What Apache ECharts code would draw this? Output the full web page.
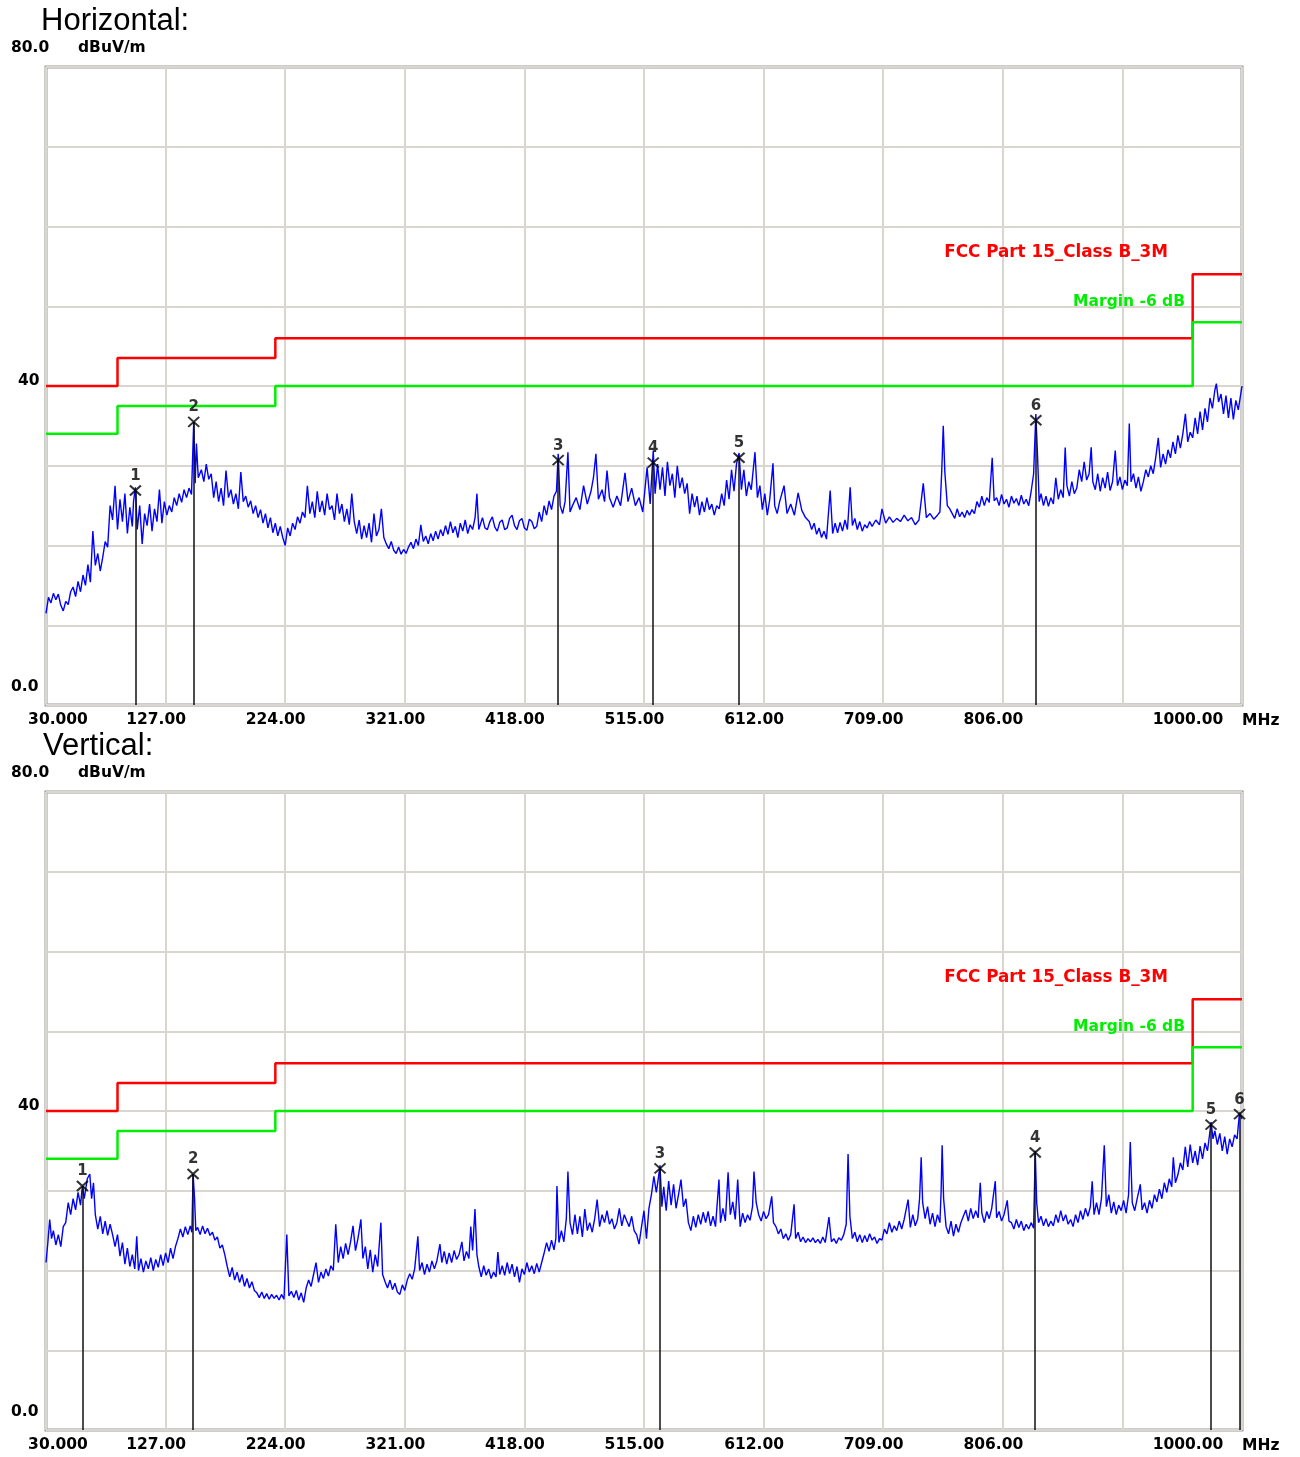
<!DOCTYPE html>
<html><head><meta charset="utf-8">
<script src="https://cdn.jsdelivr.net/npm/echarts@6/dist/echarts.min.js"></script>
<style>html,body{margin:0;padding:0;background:#fff}#c{width:1300px;height:1457px}</style>
</head><body><div id="c"></div>
<script>
// ---------- data ----------
const xTickLabels = ['30.000','127.00','224.00','321.00','418.00','515.00','612.00','709.00','806.00','','1000.00'];
const limitFreq  = [30, 88, 88, 216, 216, 960, 960, 1000];
const limitLevel = [40, 40, 43.5, 43.5, 46, 46, 54, 54];
const marginDb = -6;
const limitName = 'FCC Part 15_Class B_3M';
const marginName = 'Margin -6 dB';
const panelTitles = ['Horizontal:', 'Vertical:'];

const hTrace = [[30,11.5],[32,13.5],[34,12.8],[36,14.0],[38,13.2],[40,13.9],[42,12.5],[44,11.8],[46,13.0],[48,12.6],[50,14.2],[52,14.8],[54,13.6],[56,15.5],[58,14.2],[60,16.3],[62,15.0],[64,17.6],[66,15.4],[68,21.8],[70,17.5],[72,19.0],[74,16.8],[76,18.5],[78,20.5],[80,19.8],[82,25.0],[84,23.2],[86,27.5],[88,22.0],[90,25.8],[92,23.0],[94,26.5],[96,21.5],[98,24.8],[100,22.4],[101,25.5],[102.5,27.3],[104,22.0],[106,25.0],[108,20.2],[110,24.0],[112,22.5],[114,25.2],[116,21.8],[118,24.6],[120,23.0],[122,27.0],[124,22.8],[126,25.5],[128,23.8],[130,25.0],[132,24.2],[134,26.0],[136,25.0],[138,26.5],[140,25.4],[142,27.0],[144,26.0],[146,27.2],[148,26.4],[149.8,35.5],[151,27.8],[152,32.8],[153.5,28.5],[156,29.5],[158,28.0],[160,30.2],[162,28.3],[164,29.0],[166,26.0],[168,28.0],[170,25.5],[172,27.2],[174,25.0],[176,29.4],[178,26.0],[180,27.0],[182,25.2],[184,26.5],[186,24.6],[188,29.2],[190,25.5],[192,26.2],[194,24.8],[196,25.6],[198,24.0],[200,25.0],[202,23.5],[204,24.5],[206,22.8],[208,24.0],[210,22.2],[212,23.5],[214,21.6],[216,22.8],[218,21.2],[220,22.4],[222,21.0],[224,20.0],[226,22.2],[228,21.2],[230,22.8],[232,22.0],[234,23.6],[236,22.8],[238,24.2],[240,23.5],[242,27.5],[244,24.0],[246,25.5],[248,23.5],[250,26.8],[252,24.2],[254,25.6],[256,23.8],[258,26.5],[260,24.5],[262,25.0],[264,23.2],[266,26.5],[268,24.0],[270,25.2],[272,23.0],[274,24.6],[276,22.6],[278,26.5],[280,23.0],[282,21.5],[284,23.2],[286,20.8],[288,22.5],[290,21.0],[292,22.8],[294,20.4],[296,24.0],[298,21.2],[300,22.0],[302,24.6],[304,21.0],[306,20.2],[308,19.6],[310,20.5],[312,19.4],[314,19.0],[316,19.8],[318,18.9],[320,19.5],[322,19.0],[324,19.8],[326,20.4],[328,19.6],[330,20.8],[332,20.0],[334,22.6],[336,20.5],[338,21.2],[340,20.2],[342,21.5],[344,20.6],[346,21.8],[348,20.8],[350,22.0],[352,21.2],[354,22.5],[356,21.4],[358,23.0],[360,21.6],[362,22.4],[364,21.0],[366,22.8],[368,21.8],[370,23.2],[372,21.5],[374,22.6],[376,22.0],[378,23.5],[379.5,26.5],[381,22.0],[384,23.5],[386,22.2],[388,22.0],[390,23.0],[392,23.6],[394,22.3],[396,21.8],[398,22.9],[400,23.2],[402,22.0],[404,22.2],[406,23.4],[408,23.8],[410,22.5],[412,22.0],[414,23.1],[416,23.4],[418,22.2],[420,21.9],[422,23.3],[424,23.0],[426,22.1],[428,22.4],[430,24.2],[432,23.0],[434,25.0],[436,23.8],[438,25.6],[440,24.5],[442,26.2],[444,26.8],[445.4,31.5],[447,25.0],[449,24.0],[451,25.5],[453.3,31.7],[455,24.2],[457,25.0],[460,26.0],[463,24.5],[466,27.5],[469,25.2],[472,26.8],[474,28.5],[476,31.5],[478,25.8],[481,27.0],[483,25.5],[485,29.4],[487,26.0],[490,24.8],[493,26.2],[496,25.0],[499.6,29.1],[502,25.5],[505,27.2],[508,25.0],[511,26.0],[514,24.2],[517.5,29.8],[520,25.2],[522.5,31.9],[524,26.5],[526,30.2],[528,27.0],[530,29.8],[532,26.2],[534,30.5],[536,27.5],[538,29.0],[540,26.0],[542,30.0],[544,27.2],[546,28.5],[548,26.5],[550,27.8],[552,24.0],[554,26.5],[556,24.8],[558,26.2],[560,23.8],[562,25.5],[564,24.2],[566,26.0],[568,24.5],[570,25.2],[572,23.8],[574,25.0],[576,24.6],[578,26.5],[580,25.0],[582,28.2],[584,25.8],[586,29.5],[588,26.8],[590,30.2],[592.1,31.6],[594,27.0],[596,29.5],[598,26.2],[600,28.0],[602,27.0],[605,31.7],[607,26.0],[609,27.5],[611,24.5],[613,26.5],[615,23.8],[617,25.8],[619.6,30.3],[621,25.0],[623,24.0],[625,25.5],[628.6,27.5],[631,24.0],[634,25.2],[637,23.8],[640,26.6],[643,24.4],[646,23.5],[649,23.0],[651,22.0],[653,22.8],[655,21.4],[657,22.2],[659,21.0],[661,21.8],[663,20.8],[666,26.9],[668,21.5],[670,22.8],[672,21.6],[674,22.9],[676,21.8],[678,23.2],[680,22.0],[682.2,27.3],[684,22.5],[686,23.4],[688,22.0],[690,23.0],[692,21.8],[694,22.6],[696,22.2],[698,23.0],[700,22.4],[703,23.2],[706,22.6],[708,24.6],[711,22.8],[714,23.6],[717,22.9],[720,23.4],[723,23.0],[726,23.8],[729,23.1],[732,23.5],[735,22.6],[738,23.2],[741.5,27.8],[744,23.5],[747,24.0],[750,23.3],[753,23.8],[755,24.2],[756.5,29.4],[757.7,35.0],[759,29.2],[761,25.0],[763,24.6],[765,24.0],[767,23.4],[769,24.6],[771,23.6],[773,24.2],[775,23.5],[777,24.4],[779,23.8],[781,24.5],[783,24.0],[785,25.5],[787,24.8],[789,26.2],[791,25.0],[793,26.0],[795,25.4],[797.4,31.0],[799,25.6],[801,26.0],[803,25.0],[805,26.4],[807,25.2],[809,25.8],[811,24.8],[813,26.2],[815,25.3],[817,25.9],[819,25.0],[821,26.3],[823,25.2],[825,25.8],[827,25.0],[829,26.8],[831,29.0],[832.8,36.5],[834,32.0],[835.5,25.5],[837,26.5],[839,25.0],[841,26.2],[843,24.9],[845,26.0],[847,25.2],[849,28.5],[851,25.8],[853,27.0],[855,26.0],[856.6,32.3],[858,27.5],[860,26.2],[862,28.0],[864,26.5],[866,27.2],[868,29.5],[870,28.0],[872,30.5],[874,28.2],[876,29.0],[877.7,32.3],[879,28.0],[881,27.0],[883,29.0],[885,26.8],[887,28.5],[889,27.2],[891,29.2],[893,26.9],[895,28.0],[897.2,31.9],[899,27.5],[901,28.6],[903,27.0],[905,28.2],[907,27.5],[908.6,35.3],[910,28.0],[912,29.0],[914,27.2],[916,28.6],[918,26.8],[920,28.0],[922,29.5],[924,28.6],[926,30.0],[928,29.0],[930,31.0],[932.1,33.5],[934,29.8],[936,31.5],[938,30.2],[940,32.0],[942,31.0],[944,33.0],[946,31.5],[948,33.8],[950,32.2],[952,34.0],[954.1,36.5],[956,33.0],[958,34.2],[960,33.5],[962,36.0],[964,34.0],[966,36.8],[968,34.5],[970,37.2],[972,35.5],[974,38.5],[976,37.2],[978,39.5],[979.2,40.3],[981,38.0],[983,39.0],[985,36.5],[987,38.8],[989,36.0],[991,38.5],[993,35.8],[995,38.2],[997,37.0],[999,39.0],[1000,40.0]];

const vTrace = [[30,21.0],[31.5,23.5],[33,26.4],[34.5,24.0],[36,25.0],[38,23.2],[40,24.5],[42,23.0],[44,25.5],[46,26.0],[48,28.5],[50,27.0],[52,29.0],[54,27.6],[56,29.8],[58,28.2],[59.5,30.6],[61,29.0],[63.5,31.5],[65.5,32.1],[67,29.0],[68.5,31.0],[70,27.0],[72,25.2],[74,26.8],[76,24.6],[78,26.2],[80,24.4],[82,25.8],[84,24.5],[86,23.0],[88,24.5],[90,21.8],[92,23.5],[94,20.8],[96,22.8],[98,20.5],[100,22.0],[102,20.2],[103.6,24.3],[105,20.0],[107,21.5],[109,19.8],[111,21.2],[113,20.2],[115,21.6],[117,20.0],[119,21.4],[121,20.4],[123,22.0],[125,20.6],[127,22.2],[129,21.0],[131,22.8],[133,21.5],[135,23.0],[137,24.0],[139,25.2],[141,24.2],[143,25.5],[145,24.5],[147,25.6],[148.3,24.8],[149.3,32.1],[150.5,29.0],[151.5,25.0],[153,25.4],[155,24.5],[157,25.6],[159,24.6],[161,25.3],[163,24.4],[165,24.8],[167,23.8],[169,24.2],[171,22.8],[173,23.2],[175,22.0],[177,20.5],[179,19.2],[181,20.4],[183,18.8],[185,19.8],[187,18.5],[189,19.5],[191,18.0],[193,19.0],[195,17.8],[197,18.6],[199,17.5],[201,17.2],[203,16.6],[205,17.3],[207,16.5],[209,17.1],[211,16.4],[213,17.0],[215,16.5],[217,16.9],[219,16.3],[221,17.0],[223,16.4],[225.3,24.5],[227,16.8],[229,17.4],[231,16.6],[233,17.5],[235,16.3],[237,17.2],[239,16.0],[241,17.8],[243,18.8],[245,18.0],[247,19.5],[249,21.0],[251,18.5],[253,19.8],[255,19.0],[257,20.2],[259,19.3],[261,20.6],[263,20.0],[265,25.8],[267,21.0],[269,23.0],[271,21.5],[273,23.4],[275,22.0],[277,23.6],[279,25.6],[281,22.5],[283,24.0],[285.4,26.4],[287,21.5],[289,23.0],[291,20.2],[293,22.6],[295,19.8],[297,22.0],[299,20.5],[301.6,26.0],[303,19.5],[305,18.6],[307,17.8],[309,18.8],[311,17.6],[313,18.4],[315,17.3],[317,17.0],[319,18.2],[321,17.5],[323,18.8],[325,19.6],[327,18.9],[329,20.2],[331.6,24.3],[333,20.0],[335,21.0],[337,19.5],[339,20.8],[341,19.8],[343,21.2],[345,20.2],[347,21.2],[349.5,23.3],[351,21.0],[353,22.4],[355,20.8],[357,22.2],[359,21.0],[361,22.5],[363,21.4],[365,22.0],[367.3,23.6],[369,21.2],[371,22.4],[373,21.5],[374.5,25.5],[376,22.5],[377.9,27.7],[379.5,22.0],[381,20.5],[383,19.2],[385,20.6],[387,19.4],[389,20.2],[391,19.0],[393,19.8],[395,19.2],[396.5,22.3],[398,19.5],[400,20.6],[402,19.4],[404,21.0],[406,19.6],[408,20.8],[410,19.2],[412,20.5],[414,18.5],[416,20.2],[418,19.5],[420,21.0],[422,19.8],[424,20.6],[426,19.6],[428,20.9],[430,19.8],[432,21.0],[434,22.2],[436,23.5],[438,22.4],[440,23.8],[442,22.6],[443.5,24.0],[444.4,30.6],[446,23.5],[448,25.0],[450,23.6],[452,26.5],[453.3,32.4],[455,26.0],[457,24.5],[459,27.0],[461,24.6],[463,26.8],[465,24.2],[467,27.7],[469,25.0],[471,26.0],[473,24.8],[475,26.5],[477,28.9],[479,25.5],[481,27.0],[483,26.0],[485,27.5],[487,25.8],[489,26.5],[491,25.2],[493,26.0],[495,27.8],[497,25.6],[499,27.0],[501,26.2],[503,25.5],[505,26.8],[507,25.0],[509,24.5],[511,23.3],[513,25.5],[515,27.5],[517,24.0],[519,27.8],[521,29.5],[523,31.8],[525,29.8],[527,32.0],[528,33.2],[529.5,28.0],[531,30.5],[533,27.5],[535,31.2],[537,28.2],[539,30.8],[541,27.8],[543,29.5],[545,31.4],[547,28.0],[549,29.0],[551,26.0],[553,25.0],[555,26.8],[557,25.4],[559,27.0],[561,25.8],[563,27.3],[565,26.0],[567,27.4],[569,25.6],[571,26.8],[573,25.5],[575.8,31.4],[577,26.0],[579,27.8],[581,26.2],[583.2,32.3],[585,27.0],[587,28.6],[589,26.4],[591,31.4],[593,25.5],[595,27.2],[597,26.0],[599,27.0],[601,26.3],[603,28.0],[604.2,32.4],[606,28.5],[608,27.0],[610,26.2],[612,27.4],[614,26.5],[616,27.0],[618.6,29.3],[620,26.0],[622,25.5],[624,24.6],[626,25.2],[628,24.0],[630,24.6],[632,23.8],[634,24.5],[636.7,28.3],[638,24.0],[640,24.8],[642,23.6],[644,24.2],[646,23.5],[648,24.0],[650,23.6],[652,24.1],[654,23.5],[656,23.9],[658,23.4],[660,24.2],[662,23.5],[665,26.7],[667,23.6],[669,24.0],[671,23.4],[673,24.1],[675,23.8],[677,24.5],[679,25.8],[680.5,34.6],[682,26.8],[684,24.0],[686,24.8],[688,23.6],[690,24.5],[692,23.5],[694,24.4],[696,23.6],[698,24.6],[700,23.8],[702,24.2],[704,23.4],[706,24.0],[708,23.8],[710,25.2],[712,24.6],[714,26.0],[716,24.8],[718,25.6],[720,25.0],[722,26.2],[724,25.2],[726,26.4],[729.2,28.9],[731,25.4],[733,27.0],[735,25.6],[737,26.5],[738.5,29.0],[739.8,34.2],[741,28.5],[743,26.5],[745,28.0],[747,25.8],[749,27.2],[751,25.5],[753,27.0],[755,26.0],[756,30.0],[756.8,35.7],[758,29.0],[760,25.5],[762,24.6],[764,26.2],[766,24.3],[768,25.8],[770,24.8],[772,26.0],[774,26.8],[776,27.6],[778,26.2],[780,27.8],[782,26.5],[784,27.5],[786,26.6],[787.7,31.0],[789,27.2],[791,26.0],[793,27.4],[795,26.5],[797,27.8],[799.9,31.2],[801,26.6],[803,27.4],[805,26.2],[807,27.0],[809.6,28.8],[811,26.2],[813,26.0],[815,25.2],[817,26.4],[819,25.4],[821,26.2],[823,25.0],[825,25.8],[827,25.2],[829,26.0],[831,25.3],[832.3,35.0],[833.5,28.5],[835,26.0],[837,26.8],[839,25.6],[841,26.5],[843,25.5],[845,26.2],[847,25.6],[849,27.0],[851,26.0],[853,27.5],[855,26.2],[857,27.0],[859,25.8],[861,26.4],[863,25.5],[865,27.0],[867,26.0],[869,27.5],[871,26.4],[873,27.8],[875,26.8],[877,28.0],[878.5,31.2],[880,27.0],[882,28.5],[884,27.0],[886,29.0],[888.3,35.7],[890,28.0],[892,29.5],[894,27.2],[896,28.6],[898,27.0],[900,28.2],[902,27.5],[904,28.8],[906,27.2],[908,29.5],[909.4,36.1],[911,28.5],[913,27.5],[915,29.0],[917.5,30.8],[919,27.6],[921,28.5],[923,27.2],[925,28.8],[927,27.8],[929,29.5],[931,28.6],[933,30.2],[935,29.0],[937,31.0],[939,29.8],[941,31.5],[943,30.5],[944.3,34.2],[946,31.0],[948,32.0],[950,33.5],[952,32.6],[954,35.5],[956,33.0],[958,35.8],[960,33.5],[962,35.0],[964,33.2],[966,35.6],[968,34.0],[970,36.0],[972,35.0],[973.5,36.8],[974.9,38.6],[976.5,36.5],[978,37.5],[980,35.8],[982,37.2],[984,35.0],[986,36.8],[988,34.6],[990,36.5],[992,35.5],[994,37.0],[996,36.5],[998,39.8],[1000,39.0]];

const hMarkFreq  = [102.5, 149.8, 445.4, 522.5, 592.1, 832.8];
const hMarkLevel = [26.9, 35.5, 30.7, 30.4, 31.0, 35.7];
const vMarkFreq  = [59.5, 149.3, 528.0, 832.3, 974.9, 998.0];
const vMarkLevel = [30.6, 32.1, 32.8, 34.8, 38.3, 39.6];

// ---------- chart ----------
const F0 = 30;           // axis origin (MHz)
const STEP = 97;         // MHz per division
const FONT = '"DejaVu Sans", sans-serif';
const GRID_TOPS = [67, 792];
const bold = {fontFamily: FONT, fontWeight: 'bold', fontSize: 15.5, color: '#000'};

function xAxisFor(i) {
  return {
    type: 'value', gridIndex: i, min: 0, max: 970, interval: STEP,
    axisLine: {show: false}, axisTick: {show: false},
    splitLine: {show: true, lineStyle: {color: '#d9d6d0', width: 2}},
    axisLabel: Object.assign({
      margin: 7, showMinLabel: true, showMaxLabel: true,
      formatter: function (v) {
        const k = Math.round(v / STEP); const t = xTickLabels[k];
        if (!t) return '';
        return k === 0 ? '{f|' + t + '}' : (k === 10 ? '{l|' + t + '}' : '{m|' + t + '}');
      },
      rich: {
        f: Object.assign({padding: [0, 0, 0, 24]}, bold),
        m: Object.assign({padding: [0, 19, 0, 0]}, bold),
        l: Object.assign({padding: [0, 108, 0, 0]}, bold)
      }
    }, bold),
    name: '{u|MHz}', nameLocation: 'end', nameGap: 0,
    nameTextStyle: Object.assign({verticalAlign: 'top', rich: {u: Object.assign({padding: [8, 0, 0, 0]}, bold)}}, bold)
  };
}
function yAxisFor(i) {
  return {
    type: 'value', gridIndex: i, min: 0, max: 80, interval: 10,
    axisLine: {show: false}, axisTick: {show: false},
    splitLine: {show: true, lineStyle: {color: '#d9d6d0', width: 2}},
    axisLabel: Object.assign({
      align: 'left', margin: 35, showMinLabel: true, showMaxLabel: true,
      formatter: function (v) {
        if (v === 0) return '{b|0.0}';
        if (v === 40) return '{m|40}';
        if (v === 80) return '{t|80.0}';
        return '';
      },
      rich: {
        t: Object.assign({padding: [0, 0, 38, 0]}, bold),
        m: Object.assign({padding: [0, 0, 10, 7]}, bold),
        b: Object.assign({padding: [0, 0, 36, 0]}, bold)
      }
    }, bold),
    name: 'dBuV/m', nameLocation: 'end', nameGap: 19,
    nameTextStyle: Object.assign({align: 'left', verticalAlign: 'middle', padding: [0, 0, 0, 32]}, bold)
  };
}
function seriesFor(i, trace, mFreq, mLevel) {
  return [
    {type: 'line', xAxisIndex: i, yAxisIndex: i, data: trace.map(p => [p[0] - F0, p[1]]),
     symbol: 'none', showSymbol: false, silent: true, z: 3,
     lineStyle: {color: '#0000ff', width: 1.4}},
    {type: 'line', xAxisIndex: i, yAxisIndex: i, data: limitFreq.map((f, k) => [f - F0, limitLevel[k]]),
     symbol: 'none', silent: true, z: 2, lineStyle: {color: '#ff0000', width: 2.5}},
    {type: 'line', xAxisIndex: i, yAxisIndex: i, data: limitFreq.map((f, k) => [f - F0, limitLevel[k] + marginDb]),
     symbol: 'none', silent: true, z: 2, lineStyle: {color: '#00ee00', width: 2.5}},
    {type: 'scatter', xAxisIndex: i, yAxisIndex: i, z: 5, silent: true,
     data: mFreq.map((f, k) => [f - F0, mLevel[k]]),
     symbol: 'path://M0,0L10,10M10,0L0,10', symbolSize: [11, 10],
     itemStyle: {color: 'rgba(0,0,0,0)', borderColor: '#000', borderWidth: 2},
     label: {show: true, position: 'top', distance: 1, formatter: p => String(p.dataIndex + 1),
             fontFamily: FONT, fontWeight: 'bold', fontSize: 15, color: '#000'},
     markLine: {silent: true, symbol: ['none', 'none'], label: {show: false},
                lineStyle: {color: '#111', width: 1.5, type: 'solid'},
                data: mFreq.map((f, k) => [{coord: [f - F0, mLevel[k]]}, {coord: [f - F0, 0]}])}}
  ];
}

const graphics = [];
panelTitles.forEach(function (t, i) {
  const top = GRID_TOPS[i];
  graphics.push({type: 'text', x: i === 0 ? 41 : 43, y: top - 46, z: 10,
    style: {text: t, font: '31px "Liberation Sans", Arial, sans-serif', fill: '#000', textVerticalAlign: 'middle'}});
  graphics.push({type: 'text', x: 1168, y: top + 185.5, z: 10,
    style: {text: limitName, font: 'bold 16.8px ' + FONT, fill: '#ff0000', textAlign: 'right', textVerticalAlign: 'middle'}});
  graphics.push({type: 'text', x: 1185, y: top + 234.5, z: 10,
    style: {text: marginName, font: 'bold 15.5px ' + FONT, fill: '#00ee00', textAlign: 'right', textVerticalAlign: 'middle'}});
});

const chart = echarts.init(document.getElementById('c'), null, {renderer: 'canvas'});
chart.setOption({
  animation: false,
  backgroundColor: '#ffffff',
  grid: GRID_TOPS.map(t => ({left: 46, top: t, width: 1196, height: 638, show: true,
                              borderColor: '#9a9a9a', borderWidth: 3, backgroundColor: '#ffffff'})),
  xAxis: [xAxisFor(0), xAxisFor(1)],
  yAxis: [yAxisFor(0), yAxisFor(1)],
  series: seriesFor(0, hTrace, hMarkFreq, hMarkLevel).concat(seriesFor(1, vTrace, vMarkFreq, vMarkLevel)),
  graphic: graphics
});
</script>
</body></html>
